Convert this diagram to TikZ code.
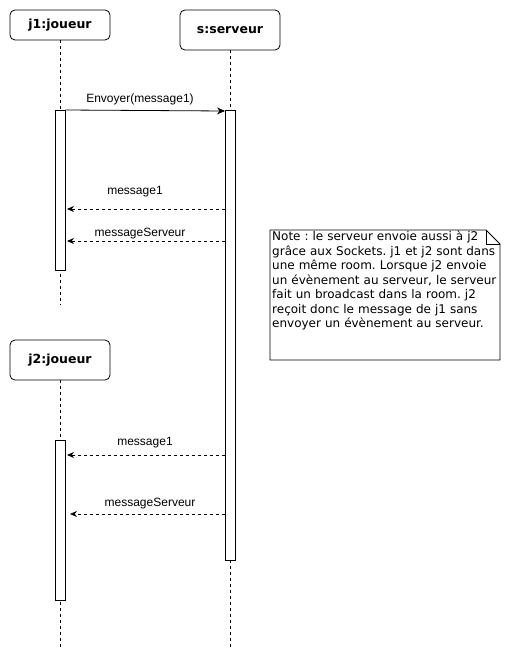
\documentclass[tikz,border=0pt]{standalone}
\usepackage{fontspec}
\setmainfont{Liberation Sans}
\newfontfamily\notefont{DejaVu Sans}
\usetikzlibrary{arrows.meta}
\frenchspacing
\begin{document}
\begin{tikzpicture}[x=1pt,y=-1pt,
  actor/.style={draw,line width=0.8pt,rounded corners=5pt,minimum width=100pt,inner sep=0pt,font=\notefont\bfseries\fontsize{12.5}{14}\selectfont},
  activation/.style={draw,fill=white,line width=0.8pt,minimum width=10pt,inner sep=0pt},
  lifeline/.style={line width=0.8pt,dash pattern=on 3pt off 3pt},
  call/.style={line width=0.8pt,-{Stealth[length=8pt,width=7pt]}},
  reply/.style={line width=0.8pt,dash pattern=on 3pt off 3pt,-{Stealth[length=7pt,width=6pt]}},
  msglabel/.style={font=\fontsize{12}{14}\selectfont,inner sep=1pt},
  notetext/.style={font=\notefont\fontsize{12}{14.5}\selectfont,align=left,anchor=north west,inner sep=0pt,text width=230pt}
]
\useasboundingbox (0,0) rectangle (511,661);

% participants
\node[actor,minimum height=30pt] (j1) at (60,25) {j1:joueur};
\node[actor,minimum height=40pt] (s) at (230,30) {s:serveur};
\node[actor,minimum height=40pt] (j2) at (60,360) {j2:joueur};

% lifeline ends
\coordinate (j1end) at (60,305);
\coordinate (send) at (230,648);
\coordinate (j2end) at (60,648);

\draw[lifeline] (j1.south) -- (j1end);
\draw[lifeline] (s.south) -- (send);
\draw[lifeline] (j2.south) -- (j2end);

% activation bars
\node[activation,minimum height=160pt] (a1) at (60,190) {};
\node[activation,minimum height=450pt] (as) at (230,335) {};
\node[activation,minimum height=160pt] (a2) at (60,520) {};

% messages
\coordinate (m0s) at (65,110);
\coordinate (m0e) at (225,111);
\draw[call] (m0s) -- (m0e);
\node[msglabel] (l0) at (140,99) {Envoyer(message1)};

\coordinate (m1s) at (225,209);
\coordinate (m1e) at (67,209);
\draw[reply] (m1s) -- (m1e);
\node[msglabel] (l1) at (135,192) {message1};

\coordinate (m2s) at (225,241);
\coordinate (m2e) at (67,241);
\draw[reply] (m2s) -- (m2e);
\node[msglabel] (l2) at (140,234) {messageServeur};

\coordinate (m3s) at (225,455);
\coordinate (m3e) at (67,455);
\draw[reply] (m3s) -- (m3e);
\node[msglabel] (l3) at (145,443) {message1};

\coordinate (m4s) at (225,514);
\coordinate (m4e) at (70,514);
\draw[reply] (m4s) -- (m4e);
\node[msglabel] (l4) at (150,504) {messageServeur};

% note with folded corner
\draw[line width=0.8pt,fill=white] (270,230) -- (486,230) -- (500,244) -- (500,360) -- (270,360) -- cycle;
\draw[line width=0.8pt] (486,230) -- (486,244) -- (500,244);
\node[notetext] (note) at (272,231) {Note : le serveur envoie aussi à j2\\grâce aux Sockets. j1 et j2 sont dans\\une même room. Lorsque j2 envoie\\un évènement au serveur, le serveur\\fait un broadcast dans la room. j2\\reçoit donc le message de j1 sans\\envoyer un évènement au serveur.};
\end{tikzpicture}
\end{document}
